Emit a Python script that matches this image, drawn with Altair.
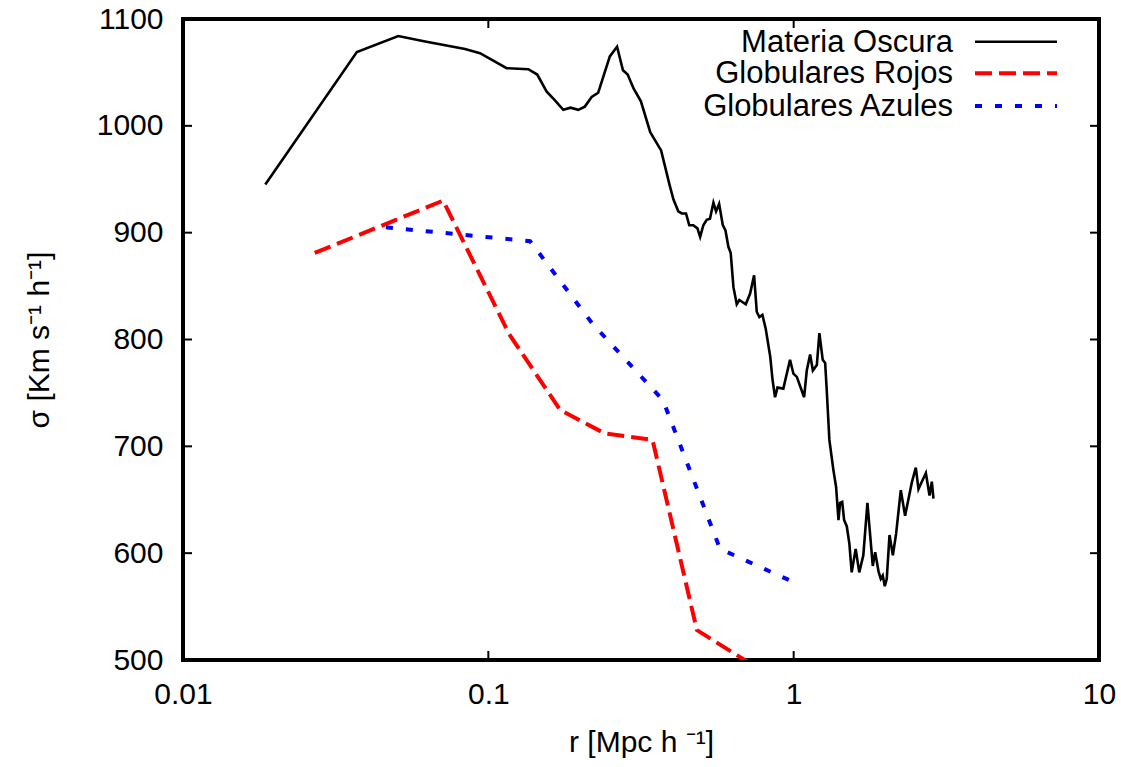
import altair as alt
import pandas as pd

# ---- data ----
dm_r = [0.0186, 0.0371, 0.0507, 0.0621, 0.0839, 0.0939, 0.1148, 0.1352, 0.1446, 0.1553,
        0.165, 0.176, 0.186, 0.197, 0.207, 0.218, 0.229, 0.250, 0.264, 0.276,
        0.286, 0.299, 0.316, 0.339, 0.368, 0.379, 0.392, 0.404, 0.419, 0.430,
        0.444, 0.455, 0.469, 0.484, 0.494, 0.506, 0.519, 0.532, 0.546, 0.557,
        0.570, 0.586, 0.598, 0.611, 0.622, 0.635, 0.651, 0.664, 0.697, 0.720,
        0.742, 0.757, 0.772, 0.790, 0.810, 0.838, 0.853, 0.869, 0.885, 0.925,
        0.973, 0.998, 1.024, 1.082, 1.104, 1.132, 1.156, 1.191, 1.214, 1.245,
        1.268, 1.283, 1.309, 1.349, 1.377, 1.402, 1.419, 1.442, 1.463, 1.493,
        1.522, 1.549, 1.596, 1.640, 1.691, 1.744, 1.816, 1.849, 1.896, 1.929,
        1.958, 1.988, 2.018, 2.060, 2.113, 2.165, 2.243, 2.317, 2.437, 2.512,
        2.563, 2.710, 2.786, 2.834, 2.870]
dm_s = [945, 1069, 1084, 1079, 1072, 1068, 1054, 1053, 1048, 1032,
        1024, 1015, 1017, 1015, 1018, 1027, 1031, 1065, 1074, 1052,
        1048, 1035, 1023, 994, 977, 962, 945, 931, 920, 918,
        918, 907, 907, 904, 896, 907, 912, 913, 928, 920,
        927, 907, 902, 887, 881, 849, 833, 837, 833, 843,
        860, 826, 821, 823, 810, 784, 762, 746, 755, 754,
        781, 768, 765, 746, 771, 786, 771, 776, 806, 781,
        778, 753, 706, 678, 662, 631, 647, 648, 631, 625,
        609, 582, 604, 582, 598, 647, 588, 601, 583, 576,
        579, 569, 576, 617, 598, 618, 659, 635, 666, 680,
        660, 675, 654, 667, 651]

red_r = [0.0270, 0.0711, 0.117, 0.172, 0.241, 0.345, 0.482, 0.776]
red_s = [881, 930, 805, 734, 712, 706, 528, 491]

blue_r = [0.0462, 0.137, 0.219, 0.3735, 0.574, 1.016]
blue_s = [905, 892, 815, 743, 604, 572]

series_names = ["Materia Oscura", "Globulares Rojos", "Globulares Azules"]
series_colors = ["#000000", "#ff0000", "#0000ff"]
series_dash = [[1, 0], [17, 7], [7, 13]]
series_width = [2.6, 4, 4]

x_ticks = [0.01, 0.1, 1, 10]
y_ticks = [500, 600, 700, 800, 900, 1000, 1100]

FONT = "Liberation Sans"
W, H = 916, 641

xscale = alt.Scale(type="log", domain=[0.01, 10], nice=False)
yscale = alt.Scale(domain=[500, 1100], nice=False, zero=False)

x_axis = alt.Axis(values=x_ticks, format="~g", title="r [Mpc h ⁻¹]",
                  domain=False, ticks=False, grid=False,
                  labelFontSize=30, labelPadding=19, labelFont=FONT,
                  labelColor="black", titleFont=FONT, titleFontSize=30,
                  titleFontWeight="normal", titleColor="black",
                  titlePadding=18, labelFlush=False)
y_axis = alt.Axis(values=y_ticks, format="d", title="σ [Km s⁻¹ h⁻¹]",
                  domain=False, ticks=False, grid=False,
                  labelFontSize=30, labelPadding=20, labelFont=FONT,
                  labelColor="black", titleFont=FONT, titleFontSize=30,
                  titleFontWeight="normal", titleColor="black",
                  titlePadding=42, labelFlush=False)


def X():
    return alt.X("r:Q", scale=xscale, axis=x_axis)


def Y():
    return alt.Y("s:Q", scale=yscale, axis=y_axis)


df_dm = pd.DataFrame({"r": dm_r, "s": dm_s})
df_red = pd.DataFrame({"r": red_r, "s": red_s})
df_blue = pd.DataFrame({"r": blue_r, "s": blue_s})

dm_line = alt.Chart(df_dm).mark_line(color=series_colors[0], strokeWidth=series_width[0],
                                     clip=True).encode(x=X(), y=Y())
red_line = alt.Chart(df_red).mark_line(color=series_colors[1], strokeWidth=series_width[1],
                                       strokeDash=series_dash[1], clip=True).encode(x=X(), y=Y())
blue_line = alt.Chart(df_blue).mark_line(color=series_colors[2], strokeWidth=series_width[2],
                                         strokeDash=series_dash[2], clip=True).encode(x=X(), y=Y())

# inward ticks (gnuplot style, mirrored)
df_xt = pd.DataFrame({"r": x_ticks})
df_yt = pd.DataFrame({"s": y_ticks})
TL = 9
xt_bot = alt.Chart(df_xt).mark_rule(color="black", strokeWidth=2).encode(
    x=X(), y=alt.value(H), y2=alt.value(H - TL))
xt_top = alt.Chart(df_xt).mark_rule(color="black", strokeWidth=2).encode(
    x=X(), y=alt.value(0), y2=alt.value(TL))
yt_left = alt.Chart(df_yt).mark_rule(color="black", strokeWidth=2).encode(
    y=Y(), x=alt.value(0), x2=alt.value(TL))
yt_right = alt.Chart(df_yt).mark_rule(color="black", strokeWidth=2).encode(
    y=Y(), x=alt.value(W), x2=alt.value(W - TL))

# legend (gnuplot style: label right-aligned, sample line to its right)
legend_rows_y = [22.7, 54.3, 87]
legend_layers = []
for name, col, dash, sw, yy in zip(series_names, series_colors, series_dash, series_width, legend_rows_y):
    legend_layers.append(
        alt.Chart(pd.DataFrame({"label": [name]})).mark_text(
            align="right", baseline="middle", font=FONT, fontSize=31, color="black"
        ).encode(text="label:N", x=alt.value(770), y=alt.value(yy + 1))
    )
    legend_layers.append(
        alt.Chart(pd.DataFrame({"label": [name]})).mark_rule(
            color=col, strokeWidth=sw, strokeDash=dash
        ).encode(x=alt.value(792), x2=alt.value(874), y=alt.value(yy))
    )

chart = alt.layer(dm_line, red_line, blue_line, xt_bot, xt_top, yt_left, yt_right,
                  *legend_layers).properties(
    width=W, height=H,
    autosize=alt.AutoSizeParams(type="none"),
    padding={"left": 183, "top": 19, "right": 22, "bottom": 107},
    background="white",
).configure_view(stroke="black", strokeWidth=4)

chart.save("out.html", embed_options={"renderer": "svg", "actions": False})
